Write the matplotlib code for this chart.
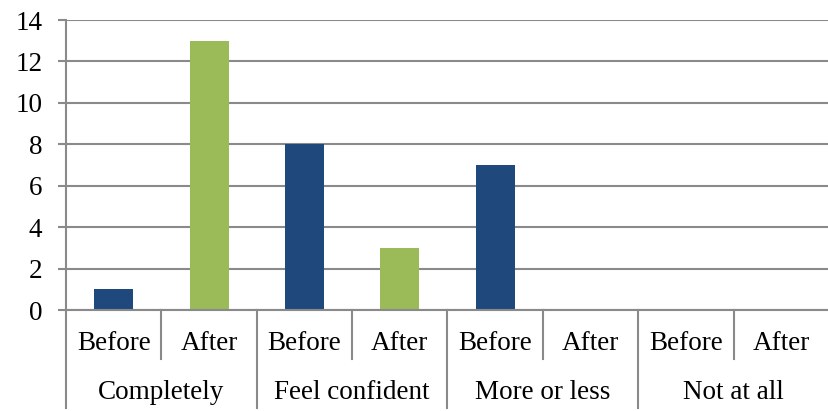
import matplotlib
matplotlib.use("Agg")
from matplotlib import pyplot as plt
from matplotlib.lines import Line2D
import numpy as np

plt.rcParams['font.family'] = ['Liberation Serif', 'DejaVu Serif']

categories = ['Completely', 'Feel confident', 'More or less', 'Not at all']
phases = ['Before', 'After']
before = [1, 8, 7, 0]
after = [13, 3, 0, 0]

blue = '#1F497D'
green = '#9BBB59'
grey = '#8A8A8A'

fig = plt.figure(figsize=(8.29, 4.11), dpi=100)
W, H = 829, 411
ax = fig.add_axes([66 / W, (H - 310) / H, 763 / W, 290 / H])

n = len(categories)
pos_before = np.arange(n) * 2
pos_after = pos_before + 1
bw = 0.41
ax.bar(pos_before, before, bw, color=blue, zorder=3)
ax.bar(pos_after, after, bw, color=green, zorder=3)

ax.set_xlim(-0.5, 2 * n - 0.5)
ax.set_ylim(0, 14)
ax.set_yticks(range(0, 15, 2))
ax.yaxis.grid(True, color=grey, linewidth=1.5)
ax.set_axisbelow(True)
ax.tick_params(axis='y', length=6, width=1.5, color=grey, pad=11, labelsize=19.5)
ax.set_xticks([])

for s in ['top', 'right']:
    ax.spines[s].set_visible(False)
for s in ['left', 'bottom']:
    ax.spines[s].set_color(grey)
    ax.spines[s].set_linewidth(1.5)
ax.spines['bottom'].set_zorder(4)

# two-level category axis drawn in figure pixels
def fx(px):
    return px / W

def fy(py):
    return 1 - py / H

x0, x1 = 66, 829
slot = (x1 - x0) / (2 * n)
for k in range(2 * n):
    xp = x0 + k * slot
    bottom = 408 if k % 2 == 0 else 359
    fig.add_artist(Line2D([fx(xp), fx(xp)], [fy(310), fy(bottom)],
                          color=grey, linewidth=1.5))

for i in range(n):
    for j, ph in enumerate(phases):
        xc = x0 + (2 * i + j + 0.5) * slot
        fig.text(fx(xc), fy(343), ph, ha='center', va='center', fontsize=19.5)
    xc = x0 + (2 * i + 1) * slot
    fig.text(fx(xc), fy(392), categories[i], ha='center', va='center', fontsize=19.5)

fig.savefig('out.png', dpi=100)
